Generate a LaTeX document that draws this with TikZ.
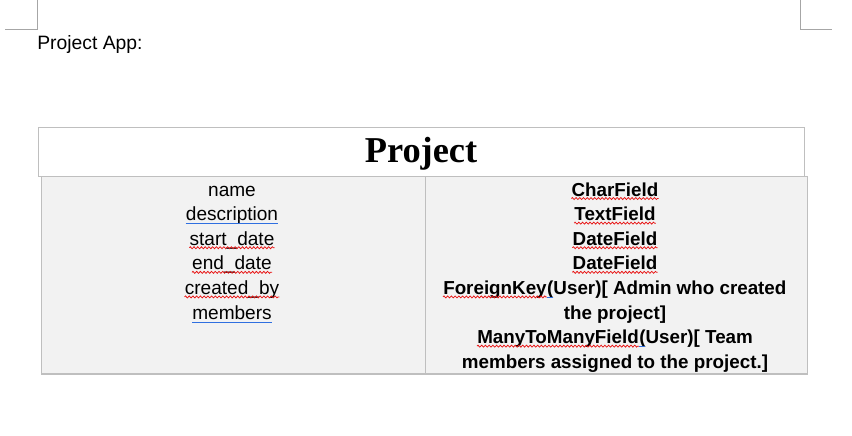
\documentclass[tikz,border=0pt]{standalone}
\usepackage{fontspec}
\setmainfont{Liberation Sans}
\newfontfamily\titlefont{Liberation Serif}
\usetikzlibrary{positioning}
\usetikzlibrary{decorations.pathmorphing}

\definecolor{cellgray}{HTML}{F2F2F2}
\definecolor{rulegray}{HTML}{BFBFBF}
\definecolor{markgray}{HTML}{A6A6A6}
\definecolor{spellred}{HTML}{E81010}
\definecolor{grammarblue}{HTML}{2F6FE0}

\begin{document}
\begin{tikzpicture}[x=0.75pt,y=-0.75pt,
    fieldname/.style={anchor=base, inner sep=0pt, font=\fontsize{14.3}{17}\selectfont},
    fieldtype/.style={anchor=base, inner sep=0pt, font=\fontsize{14.1}{17}\selectfont\bfseries},
    spell/.style={spellred, line width=0.55pt, decorate,
        decoration={zigzag, segment length=2.8pt, amplitude=0.75pt}},
    grammar/.style={grammarblue, line width=0.7pt}]

    \useasboundingbox (0,0) rectangle (852,435);

    % page corner marks
    \draw[markgray, line width=0.75pt] (5,30) -- (37,30) -- (37,0);
    \draw[markgray, line width=0.75pt] (800,0) -- (800,30) -- (832,30);

    \node[anchor=base west, inner sep=0pt, font=\fontsize{14.5}{17}\selectfont] (app) at (37,50) {Project App:};

    % table
    \fill[cellgray] (41,176) rectangle (807,374);
    \draw[rulegray, line width=0.75pt] (38,127) rectangle (804,176);
    \draw[rulegray, line width=0.75pt] (41,176) rectangle (807,374);
    \draw[rulegray, line width=0.75pt] (425,176) -- (425,374);
    \draw[rulegray, line width=1.5pt] (41,374) -- (807,374);

    \node[anchor=base, inner sep=0pt, font=\titlefont\fontsize{27.3}{30}\selectfont\bfseries] (title) at (421,162) {Project};

    % field names
    \foreach \txt [count=\i from 0] in {name,description,start\_date,end\_date,created\_by,members}
        \node[fieldname] (name\i) at (232,196+24.6*\i) {\txt};

    % field types
    \foreach \txt [count=\i from 0] in {CharField,TextField,DateField,DateField}
        \node[fieldtype] (type\i) at (615,196+24.6*\i) {\txt};
    \node[fieldtype, anchor=base west] (fk) at (443,294.4) {ForeignKey};
    \node[fieldtype, anchor=base west] (type4) at (fk.base east) {(User)[ Admin who created};
    \node[fieldtype] (type5) at (615,319) {the project]};
    \node[fieldtype, anchor=base west] (m2m) at (477,343.6) {ManyToManyField};
    \node[fieldtype, anchor=base west] (type6) at (m2m.base east) {(User)[ Team};
    \node[fieldtype] (type7) at (615,368.2) {members assigned to the project.]};

    % spell check marks
    \foreach \n in {name2,name3,name4,type0,type1,type2,type3,fk,m2m}
        \draw[spell] ([yshift=-1.9pt]\n.base west) -- ([yshift=-1.9pt]\n.base east);
    \foreach \n in {name1,name5}
        \draw[grammar] ([yshift=-2.3pt]\n.base west) -- ([yshift=-2.3pt]\n.base east);
    \foreach \n in {type4,type6}
        \draw[grammar] ([yshift=-2.3pt]\n.base west) -- ([yshift=-2.3pt,xshift=4.7pt]\n.base west);

\end{tikzpicture}
\end{document}
